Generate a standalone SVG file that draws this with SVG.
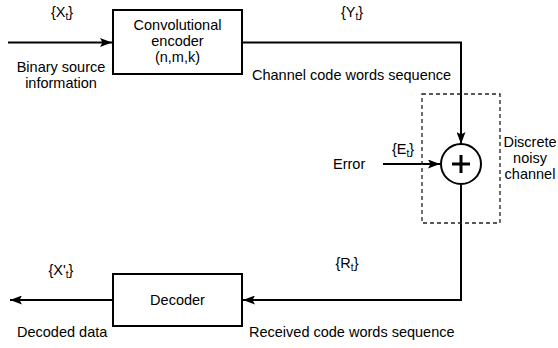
<svg xmlns="http://www.w3.org/2000/svg" width="558" height="348" viewBox="0 0 558 348">
<style>
text{font-family:"Liberation Sans",Arial,sans-serif;font-size:14.5px;fill:#000}
.c{text-anchor:middle}
.box{fill:#fff;stroke:#000;stroke-width:2}
.ln{fill:none;stroke:#000;stroke-width:2}
.sub{font-size:10px}
</style>
<defs>
<marker id="ah" markerWidth="13" markerHeight="9" refX="12" refY="4.5" orient="auto" markerUnits="userSpaceOnUse">
<path d="M0,0 L12,4.5 L0,9 L2.5,4.5 Z" fill="#000"/>
</marker>
</defs>
<rect width="558" height="348" fill="#fff"/>
<g id="connectors">
<path class="ln" d="M8,42.5 H112" marker-end="url(#ah)"/>
<path class="ln" d="M243,42.5 H461 V144" marker-end="url(#ah)"/>
<path class="ln" d="M383,164 H440" marker-end="url(#ah)"/>
<path class="ln" d="M461,185 V300 H243" marker-end="url(#ah)"/>
<path class="ln" d="M113,300 H10" marker-end="url(#ah)"/>
</g>
<g id="channel">
<rect x="422" y="94" width="78" height="129" fill="none" stroke="#222" stroke-width="1.3" stroke-dasharray="4,3"/>
<text class="c" x="530" y="147">Discrete</text>
<text class="c" x="530" y="163">noisy</text>
<text class="c" x="530" y="179">channel</text>
</g>
<g id="encoder">
<rect class="box" x="113" y="10" width="129" height="64"/>
<text class="c" x="177.5" y="30">Convolutional</text>
<text class="c" x="177.5" y="46">encoder</text>
<text class="c" x="177.5" y="62">(n,m,k)</text>
</g>
<g id="adder">
<circle cx="461" cy="164" r="20" fill="#fff" stroke="#000" stroke-width="2"/>
<path d="M452,164 H470 M461,155 V173" stroke="#000" stroke-width="3"/>
</g>
<g id="decoder">
<rect class="box" x="113" y="274" width="129" height="52"/>
<text class="c" x="177.5" y="305">Decoder</text>
</g>
<g id="labels">
<text class="c" x="62" y="17">{X<tspan class="sub" dy="3">t</tspan><tspan dy="-3">}</tspan></text>
<text class="c" x="61" y="72">Binary source</text>
<text class="c" x="61" y="88">information</text>
<text class="c" x="352" y="17">{Y<tspan class="sub" dy="3">t</tspan><tspan dy="-3">}</tspan></text>
<text x="252" y="80">Channel code words sequence</text>
<text class="c" x="403" y="154">{E<tspan class="sub" dy="3">t</tspan><tspan dy="-3">}</tspan></text>
<text x="333" y="169">Error</text>
<text class="c" x="347" y="268">{R<tspan class="sub" dy="3">t</tspan><tspan dy="-3">}</tspan></text>
<text class="c" x="61" y="275">{X'<tspan class="sub" dy="3">t</tspan><tspan dy="-3">}</tspan></text>
<text x="17" y="337">Decoded data</text>
<text x="249" y="337">Received code words sequence</text>
</g>
</svg>
